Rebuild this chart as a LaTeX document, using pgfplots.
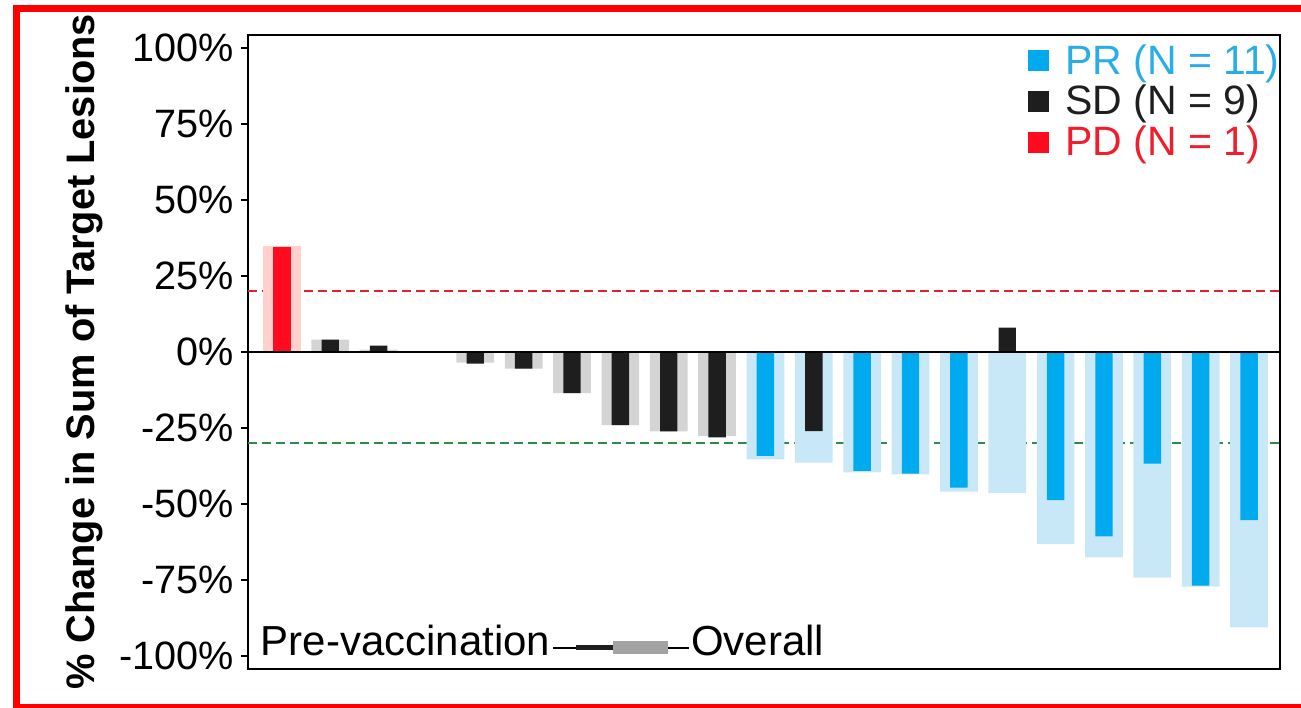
\documentclass[border=0pt]{standalone}
\usepackage{fontspec}
\setmainfont{Liberation Sans}
\usepackage{pgfplots}
\pgfplotsset{compat=1.18}
\usetikzlibrary{calc}

\definecolor{prblue}{HTML}{00AAEF}
\definecolor{prlight}{HTML}{C8E8F8}
\definecolor{sdblack}{HTML}{1E1E1E}
\definecolor{sdgray}{HTML}{D4D4D4}
\definecolor{pdred}{HTML}{FF0A1E}
\definecolor{pdpink}{HTML}{FFD0CC}
\definecolor{cutred}{HTML}{E8202E}
\definecolor{cutgreen}{HTML}{2F8A4C}
\definecolor{legblue}{HTML}{2AADE6}
\definecolor{legred}{HTML}{F01E2C}
\definecolor{keygray}{HTML}{A3A3A3}

\begin{document}
\begin{tikzpicture}
\begin{axis}[
  scale only axis, width=516pt, height=317pt,
  xmin=-0.7, xmax=20.64, ymin=-104.3, ymax=104.3,
  xtick=\empty,
  ytick={-100,-75,-50,-25,0,25,50,75,100},
  yticklabels={-100\%,-75\%,-50\%,-25\%,0\%,25\%,50\%,75\%,100\%},
  ytick pos=left, tick align=outside, major tick length=3.5pt,
  tick style={line width=1pt, black},
  axis line style={line width=1pt},
  ticklabel style={font=\fontsize{19.8}{22}\selectfont},
  ylabel={\bfseries \% Change in Sum of Target Lesions},
  ylabel style={font=\fontsize{19.9}{22}\selectfont, at={(rel axis cs:0,0.5)}, anchor=center, yshift=82pt},
  legend style={draw=none, fill=none, inner sep=0pt, at={(rel axis cs:1,1)}, anchor=north east,
    xshift=1pt, yshift=-3.5pt, font=\fontsize{20.5}{21}\selectfont,
    nodes={inner sep=1pt}, row sep=2pt},
  legend cell align=left,
]
\coordinate (sw) at (rel axis cs:0,0);

% response thresholds: +20% progression, -30% partial response
\addplot[forget plot, draw=cutred, line width=1pt, dash pattern=on 4.5pt off 2.5pt]
  coordinates {(-0.7,20) (20.64,20)};
\addplot[forget plot, draw=cutgreen, line width=1pt, dash pattern=on 4.5pt off 2.5pt]
  coordinates {(-0.7,-30) (20.64,-30)};

% overall change (wide bars), coloured by overall response
\addplot[forget plot, ybar, bar width=0.78, bar shift=0pt, fill=pdpink, draw=none]
  coordinates {(0,35)};
\addplot[forget plot, ybar, bar width=0.78, bar shift=0pt, fill=sdgray, draw=none]
  coordinates {(1,4.1) (2,0.8) (3,0) (4,-3.5) (5,-5.5) (6,-13.5) (7,-24.1) (8,-26.1) (9,-27.7)};
\addplot[forget plot, ybar, bar width=0.78, bar shift=0pt, fill=prlight, draw=none]
  coordinates {(10,-35.3) (11,-36.4) (12,-39.6) (13,-40.3) (14,-45.9) (15,-46.4)
               (16,-63.2) (17,-67.6) (18,-74.2) (19,-77.2) (20,-90.6)};

% pre-vaccination change (narrow bars), coloured by pre-vaccination response
\addplot[forget plot, ybar, bar width=0.36, bar shift=0pt, fill=pdred, draw=none]
  coordinates {(0,34.4)};
\addplot[forget plot, ybar, bar width=0.36, bar shift=0pt, fill=sdblack, draw=none]
  coordinates {(1,4.1) (2,2.1) (3,0) (4,-3.8) (5,-5.5) (6,-13.5) (7,-24.1) (8,-26.1) (9,-28.1)
               (11,-26.0) (15,8.0)};
\addplot[forget plot, ybar, bar width=0.36, bar shift=0pt, fill=prblue, draw=none]
  coordinates {(10,-34.2) (12,-39.1) (13,-40.0) (14,-44.6) (16,-48.7) (17,-60.7)
               (18,-36.7) (19,-76.9) (20,-55.3)};

% baseline
\addplot[forget plot, black, line width=1pt] coordinates {(-0.7,0) (20.64,0)};

\addlegendimage{legend image code/.code={\fill[prblue] (0pt,-5pt) rectangle (10pt,5pt); \path (17pt,0pt);}}
\addlegendentry{\textcolor{legblue}{PR (N = 11)}}
\addlegendimage{legend image code/.code={\fill[sdblack] (0pt,-5pt) rectangle (10pt,5pt); \path (17pt,0pt);}}
\addlegendentry{\textcolor{sdblack}{SD (N = 9)}}
\addlegendimage{legend image code/.code={\fill[pdred] (0pt,-5pt) rectangle (10pt,5pt); \path (17pt,0pt);}}
\addlegendentry{\textcolor{legred}{PD (N = 1)}}

\node[anchor=base west, inner sep=0pt, font=\fontsize{21}{22}\selectfont]
  at (rel axis cs:0.012,0.022)
  {Pre-vaccination\hspace{1.5pt}\rule[3pt]{11.5pt}{1pt}\textcolor{sdblack}{\rule[2.3pt]{18.5pt}{2.6pt}}\textcolor{keygray}{\rule[0.3pt]{27.5pt}{6.5pt}}\rule[3pt]{10.5pt}{1pt}\hspace{1pt}Overall};
\end{axis}

\draw[red, line width=3.5pt] ($(sw)+(-115.5pt,-19.25pt)$) rectangle ($(sw)+(528.5pt,330.25pt)$);
\pgfresetboundingbox
\path[use as bounding box] ($(sw)+(-124pt,-19pt)$) rectangle ($(sw)+(526.5pt,334.5pt)$);
\end{tikzpicture}
\end{document}
